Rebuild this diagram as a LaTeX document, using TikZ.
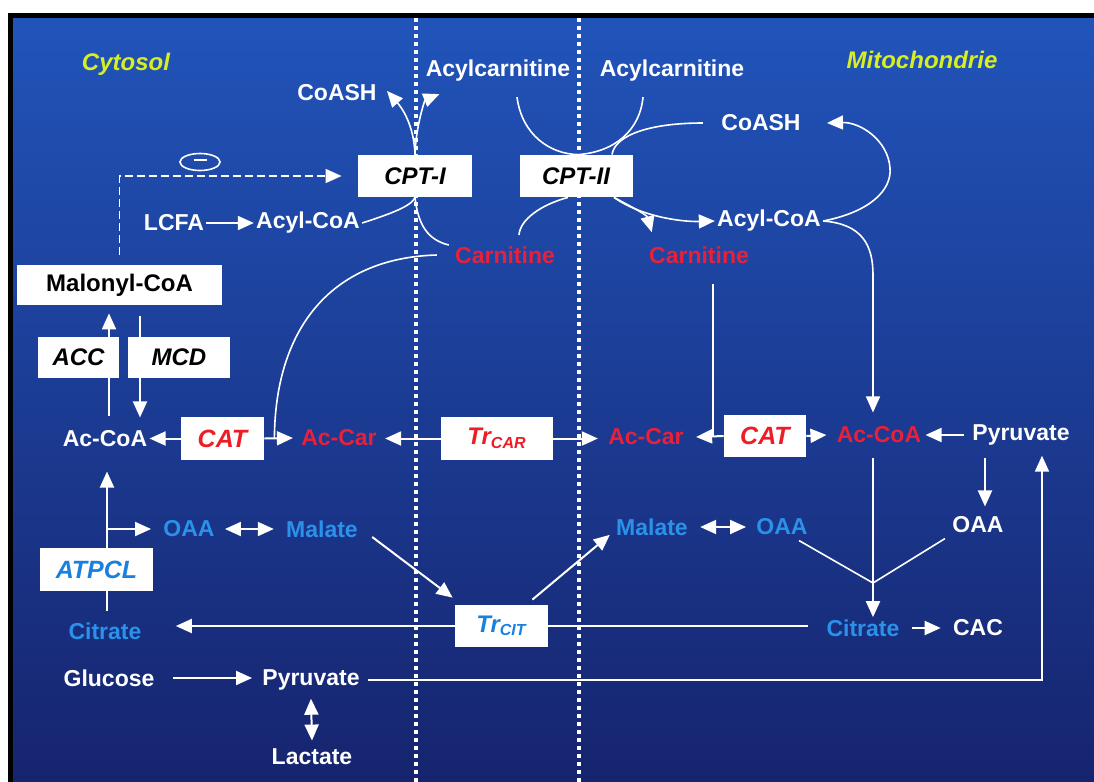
\documentclass[tikz,border=0pt]{standalone}
\usepackage{fontspec}
\setmainfont{Liberation Sans}
\usetikzlibrary{arrows.meta,positioning,calc,shapes.geometric}
\definecolor{bgtop}{RGB}{33,84,186}
\definecolor{bgbot}{RGB}{22,36,110}
\definecolor{cyt}{HTML}{D8EE22}
\definecolor{cred}{HTML}{E8203A}
\definecolor{bred}{HTML}{EE1C24}
\definecolor{cblue}{HTML}{2A92EA}
\definecolor{bblue}{HTML}{1A80E0}
\tikzset{
  met/.style={text=white,font=\bfseries\fontsize{11.5}{13}\selectfont,inner sep=1pt},
  redmet/.style={met,text=cred},
  bluemet/.style={met,text=cblue},
  region/.style={text=cyt,font=\bfseries\itshape\fontsize{12}{14}\selectfont,inner sep=1pt},
  enz/.style={fill=white,inner sep=0pt,text=black,font=\bfseries\itshape\fontsize{12}{14}\selectfont},
  arr/.style={white,line width=1pt,-{Triangle[length=8pt,width=7pt]}},
  dbl/.style={arr,{Triangle[length=8pt,width=7pt]}-{Triangle[length=8pt,width=7pt]}},
  ln/.style={white,line width=0.8pt},
  curv/.style={white,line width=0.8pt,-{Triangle[length=8pt,width=7pt]}},
  membrane/.style={white,line width=2.2pt,dash pattern=on 2pt off 2pt},
}

\begin{document}
\begin{tikzpicture}[x=0.5pt,y=-0.5pt]
	\useasboundingbox (0,0) rectangle (1094,782);

	% Background
	\fill[white] (0,0) rectangle (1094,782);
	\shade[top color=bgtop,bottom color=bgbot] (12,16) rectangle (1094,782);
	\draw[line width=2.5pt] (10,782) -- (10,15) -- (1094,15);

	% Membranes
	\draw[membrane] (416,18) -- (416,782);
	\draw[membrane] (579,18) -- (579,782);

	% Compartments
	\node[region] (cyto) at (126,64) {Cytosol};
	\node[region] (mito) at (922,60) {Mitochondrie};

	% Carnitine shuttle
	\node[met] (coashL) at (337,93) {CoASH};
	\node[met] (acylcarL) at (498,71) {Acylcarnitine};
	\node[met] (acylcarR) at (672,71) {Acylcarnitine};
	\node[met] (coashR) at (761,123) {CoASH};
	\node[enz,minimum width=57pt,minimum height=21pt] (cpt1) at (415,176) {CPT-I};
	\node[enz,minimum width=56.5pt,minimum height=21pt] (cpt2) at (576,176) {CPT-II};
	\node[met] (lcfa) at (174,223) {LCFA};
	\node[met] (acylL) at (308,223) {Acyl-CoA};
	\node[redmet] (carnL) at (505,255) {Carnitine};
	\node[met] (acylR) at (769,221) {Acyl-CoA};
	\node[redmet] (carnR) at (699,255) {Carnitine};
	\node[enz,font=\bfseries\fontsize{12}{14}\selectfont,minimum width=102.5pt,minimum height=20pt] (malonyl) at (119.5,285) {Malonyl-CoA};
	\node[draw=white,line width=0.8pt,ellipse,minimum width=20pt,minimum height=8.5pt,inner sep=0pt] (inhib) at (200,162) {\color{white}\rule[2.2pt]{6.5pt}{1.1pt}};

	% Acetyl row
	\node[met] (acCoAL) at (105,439) {Ac-CoA};
	\node[enz,text=bred,font=\bfseries\itshape\fontsize{12.5}{14}\selectfont,minimum width=41.5pt,minimum height=21.5pt] (cat1) at (222.5,438.5) {CAT};
	\node[redmet] (acCarL) at (339,438) {Ac-Car};
	\node[enz,text=bred,minimum width=56pt,minimum height=21.5pt] (trcar) at (497,438.5) {Tr\textsubscript{CAR}};
	\node[redmet] (acCarR) at (646,437) {Ac-Car};
	\node[enz,text=bred,font=\bfseries\itshape\fontsize{12.5}{14}\selectfont,minimum width=41pt,minimum height=21pt] (cat2) at (765,436) {CAT};
	\node[redmet] (acCoAR) at (879,435) {Ac-CoA};
	\node[met] (pyrR) at (1021,435) {Pyruvate};

	% Citrate shuttle
	\node[bluemet] (oaaL) at (189,529) {OAA};
	\node[bluemet] (malL) at (322,529) {Malate};
	\node[bluemet] (malR) at (652,527) {Malate};
	\node[bluemet] (oaaR) at (782,527) {OAA};
	\node[met] (oaaF) at (978,525) {OAA};
	\node[bluemet] (citL) at (105,631) {Citrate};
	\node[enz,text=bblue,minimum width=46.5pt,minimum height=21pt] (trcit) at (501.5,626) {Tr\textsubscript{CIT}};
	\node[bluemet] (citR) at (863,628) {Citrate};
	\node[met] (cac) at (978,628) {CAC};
	\node[met] (gluc) at (109,678) {Glucose};
	\node[met] (pyrL) at (311,680) {Pyruvate};
	\node[met] (lact) at (312,757) {Lactate};

	% helper points
	\coordinate (accTop) at ([shift={(4,-12)}]acCoAL.north);
	\coordinate (malBot) at ([yshift=-4pt]malonyl.south);
	\coordinate (mcdTop) at ([shift={(20.5,11)}]malonyl.south);
	\coordinate (acTop) at ([yshift=5.5pt]acCoAL.north);
	\coordinate (carnDrop) at ([shift={(14,18)}]carnR.south);
	\coordinate (pyrDrop) at ([shift={(-36,10)}]pyrR.south);
	\coordinate (oaaTop) at ([yshift=4pt]oaaF.north);
	\coordinate (citTop) at ([shift={(2,-9)}]citL.north);
	\coordinate (acBot) at ([yshift=-11pt]acCoAL.south);
	\coordinate (acRBot) at ([shift={(-6,12)}]acCoAR.south);
	\coordinate (pyrUp) at ([shift={(21,8)}]pyrR.south);
	\coordinate (acCarLin) at ([xshift=3pt]acCarL.east);
	\coordinate (acCarRin) at ([xshift=-4pt]acCarR.west);
	\coordinate (citLin) at ([xshift=16pt]citL.east);
	\coordinate (citRout) at ([xshift=-8pt]citR.west);
	\coordinate (glucOut) at ([xshift=8pt]gluc.east);
	\coordinate (pyrLin) at ([xshift=-4pt]pyrL.west);
	\coordinate (jct) at (873,583);

	% CPT-I
	\draw[curv] (cpt1.north) .. controls (414,125) and (402,108) .. ([shift={(8,-2)}]coashL.east);
	\draw[curv] (cpt1.north) .. controls (416,125) and (425,100) .. ([shift={(16,10)}]acylcarL.south west);
	\draw[ln] (acylL.east) .. controls (390,214) and (412,206) .. (cpt1.south);
	\draw[ln] (cpt1.south) .. controls (418,225) and (428,240) .. ([shift={(-4,-10)}]carnL.west);
	\draw[white,line width=0.8pt,dash pattern=on 4pt off 2pt,-{Triangle[length=8pt,width=7pt]}] ([yshift=5pt]malonyl.north) |- ([xshift=-8pt]cpt1.west);

	% CPT-II
	\draw[ln] ([shift={(19,13)}]acylcarL.south) .. controls (522,135) and (550,154) .. ([xshift=1pt]cpt2.north);
	\draw[ln] ([shift={(-29,13)}]acylcarR.south) .. controls (640,130) and (615,152) .. ([xshift=1pt]cpt2.north);
	\draw[ln] ([xshift=-8pt]coashR.west) .. controls (650,123) and (615,135) .. ([xshift=18pt]cpt2.north);
	\draw[ln] ([xshift=-4pt]cpt2.south) .. controls (540,205) and (520,220) .. (519,235);
	\draw[curv] ([xshift=19pt]cpt2.south) .. controls (630,206) and (647,215) .. ([shift={(5,-12)}]carnR.north west);
	\draw[curv] ([xshift=19pt]cpt2.south) .. controls (640,216) and (680,222) .. (acylR.west);
	\draw[curv] (acylR.east) .. controls (870,212) and (892,190) .. (890,168) .. controls (888,140) and (860,122) .. ([xshift=12pt]coashR.east);
	\draw[curv] (acylR.east) .. controls (862,224) and (873,245) .. (873,275) -- ([shift={(-6,-12)}]acCoAR.north);
	\draw[ln] (carnDrop) -- (carnDrop |- cat2.west);

	% Cytosol acetyl
	\draw[ln] ([xshift=-8pt]carnL.west) .. controls (330,258) and (275,330) .. ([xshift=5pt]cat1.east);
	\draw[arr] (accTop) -- (accTop |- malBot);
	\draw[arr] (mcdTop) -- (mcdTop |- acTop);
	\draw[arr] (lcfa.east) -- (acylL.west);
	\draw[arr] (cat1.west) -- (cat1.west -| acCoAL.east);
	\draw[arr] (cat1.east) -- ([xshift=-3pt]acCarL.west);
	\draw[arr] (trcar.west) -- (trcar.west -| acCarLin);
	\draw[arr] (trcar.east) -- (trcar.east -| acCarRin);
	\draw[arr] (cat2.west) -- ([xshift=5pt]acCarR.east);
	\draw[arr] (cat2.east) -- ([xshift=-4pt]acCoAR.west);
	\draw[arr] ([xshift=-3pt]pyrR.west) -- ([xshift=1pt]acCoAR.east);
	\draw[arr] (pyrDrop) -- (pyrDrop |- oaaTop);

	% Citrate shuttle
	\draw[arr] (citTop) -- (citTop |- acBot);
	\draw[arr] (citTop |- oaaL.west) -- ([xshift=-5pt]oaaL.west);
	\draw[dbl] ([xshift=4pt]oaaL.east) -- ([xshift=-5pt]malL.west);
	\draw[arr] ([shift={(12,8)}]malL.east) -- ([shift={(-2,-7)}]trcit.north west);
	\draw[arr] (trcit.west) -- (trcit.west -| citLin);
	\draw[ln] (trcit.east -| citRout) -- (trcit.east);
	\draw[arr] ([shift={(-16,-5)}]trcit.north east) -- ([shift={(-4,-3)}]malR.south west);
	\draw[dbl] ([xshift=5pt]malR.east) -- ([xshift=-4pt]oaaR.west);
	\draw[ln] ([shift={(17,3)}]oaaR.south) -- (jct);
	\draw[ln] ([shift={(-33,3)}]oaaF.south) -- (jct);
	\draw[arr] (acRBot) -- (acRBot |- citR.north);
	\draw[arr] ([xshift=5pt]citR.east) -- ([xshift=-5pt]cac.west);

	% Glycolysis
	\draw[arr] (glucOut) -- (glucOut -| pyrLin);
	\draw[dbl] ([yshift=-3pt]pyrL.south) -- ([yshift=3pt]lact.north);
	\draw[arr] ([xshift=3pt]pyrL.east) -| (pyrUp);

	% Enzymes over lines
	\node[enz,minimum width=40.5pt,minimum height=20.5pt] (acc) at (78.5,357.5) {ACC};
	\node[enz,minimum width=51pt,minimum height=20.5pt] (mcd) at (179,357.5) {MCD};
	\node[enz,text=bblue,font=\bfseries\itshape\fontsize{12.5}{14}\selectfont,minimum width=56.5pt,minimum height=21.5pt] (atpcl) at (96.5,569.5) {ATPCL};

\end{tikzpicture}
\end{document}
